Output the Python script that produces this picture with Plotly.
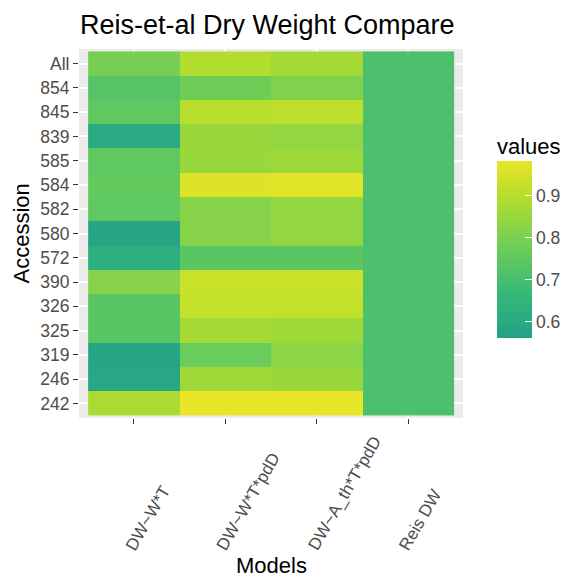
import plotly.graph_objects as go
import plotly.colors as pc

models = ["DW~W*T", "DW~W*T*pdD", "DW~A_th*T*pdD", "Reis DW"]
accessions = ["All", "854", "845", "839", "585", "584", "582", "580", "572",
              "390", "326", "325", "319", "246", "242"]

dw_w_t = [0.79, 0.73, 0.75, 0.60, 0.75, 0.76, 0.75, 0.58, 0.62,
          0.82, 0.74, 0.74, 0.58, 0.59, 0.88]
dw_w_t_pdd = [0.89, 0.78, 0.90, 0.85, 0.85, 0.96, 0.82, 0.82, 0.74,
              0.93, 0.92, 0.87, 0.77, 0.86, 0.98]
dw_ath_t_pdd = [0.87, 0.81, 0.91, 0.84, 0.86, 0.97, 0.84, 0.84, 0.74,
                0.93, 0.92, 0.86, 0.83, 0.85, 0.98]
reis_dw = [0.71] * 15
cbar_ticks = [0.6, 0.7, 0.8, 0.9]

z = [[a, b, c, d] for a, b, c, d in zip(dw_w_t, dw_w_t_pdd, dw_ath_t_pdd, reis_dw)]

zmin, zmax = 0.562, 0.982
vir = pc.sequential.Viridis
begin, end = 0.57, 0.97
n = 12
scale = []
for i in range(n + 1):
    t = begin + (end - begin) * i / n
    scale.append([i / n, pc.sample_colorscale(vir, [t])[0]])

W, H = 569, 579
pl, pr, pt, pb = 79, 463, 49, 418
pw, ph = pr - pl, pb - pt

cb_left, cb_thick, cb_len, cb_mid = 497, 35, 177, 249.5

fig = go.Figure(go.Heatmap(
    z=z, x=models, y=accessions,
    zmin=zmin, zmax=zmax, colorscale=scale,
    colorbar=dict(
        thickness=cb_thick, len=cb_len, lenmode="pixels",
        x=(cb_left - pl) / pw, xanchor="left", y=(pb - cb_mid) / ph, yanchor="middle",
        ypad=0, xpad=0,
        outlinewidth=0, ticks="inside", tickcolor="white", ticklen=7,
        tickvals=cbar_ticks, ticktext=[f"{v:.1f}" for v in cbar_ticks],
        tickfont=dict(size=17.5, color="#4d4d4d"),
    ),
))

# white tick marks on left side of colour bar (ggplot style)
cb_bottom = cb_mid + cb_len / 2
shapes = []
for v in cbar_ticks:
    py = cb_bottom - (v - zmin) / (zmax - zmin) * cb_len
    yp = (pb - py) / ph
    shapes.append(dict(type="line", xref="paper", yref="paper",
                       x0=(cb_left - pl) / pw, x1=(cb_left + 7 - pl) / pw,
                       y0=yp, y1=yp, line=dict(color="white", width=1)))

# approximate Arial advance widths (em) for rotated label placement
cw = {"D": .722, "W": .944, "~": .584, "*": .389, "T": .611, "p": .556, "d": .556,
      "A": .667, "_": .556, "t": .278, "h": .556, "R": .722, "e": .556, "i": .222,
      "s": .5, " ": .278}
fs_x = 17
y0 = (pb - 549) / ph
ann = []
for m in models:
    L = sum(cw.get(c, .556) for c in m) * fs_x
    ann.append(dict(text=m, x=m, xref="x", y=y0, yref="paper",
                    xshift=0.25 * L - 4, yshift=0.433 * L, textangle=-60,
                    xanchor="center", yanchor="middle", showarrow=False,
                    font=dict(size=fs_x, color="#4d4d4d")))

ann += [
    dict(text="Models", xref="paper", yref="paper", x=0.5, y=-(565 - pb) / ph,
         xanchor="center", yanchor="middle", showarrow=False,
         font=dict(size=22, color="black")),
    dict(text="Accession", xref="paper", yref="paper", x=-(pl - 21) / pw, y=0.5,
         xanchor="center", yanchor="middle", showarrow=False, textangle=-90,
         font=dict(size=22, color="black")),
    dict(text="values", xref="paper", yref="paper", x=(495 - pl) / pw,
         y=(pb - 146) / ph, xanchor="left", yanchor="middle", showarrow=False,
         font=dict(size=22, color="black")),
]

fig.update_layout(
    width=W, height=H,
    margin=dict(l=pl, r=W - pr, t=pt, b=H - pb, autoexpand=False),
    paper_bgcolor="white", plot_bgcolor="#ebebeb",
    font=dict(family="Liberation Sans, Arial", color="black"),
    title=dict(text="Reis-et-al Dry Weight Compare", x=80 / W, xanchor="left",
               xref="container", y=1 - 25 / H, yanchor="middle",
               font=dict(size=27, color="black")),
    annotations=ann,
    shapes=shapes,
)
fig.update_xaxes(
    range=[-0.6, 3.6], showgrid=True, gridcolor="white", gridwidth=1.5,
    zeroline=False, ticks="outside", ticklen=5, tickcolor="#333333", tickwidth=1.2,
    showticklabels=False,
)
fig.update_yaxes(
    range=[14.6, -0.6], showgrid=True, gridcolor="white", gridwidth=1.5,
    zeroline=False, ticks="outside", ticklen=5, tickcolor="#333333", tickwidth=1.2,
    tickfont=dict(size=17.5, color="#4d4d4d"),
)

fig.write_html("out.html")
